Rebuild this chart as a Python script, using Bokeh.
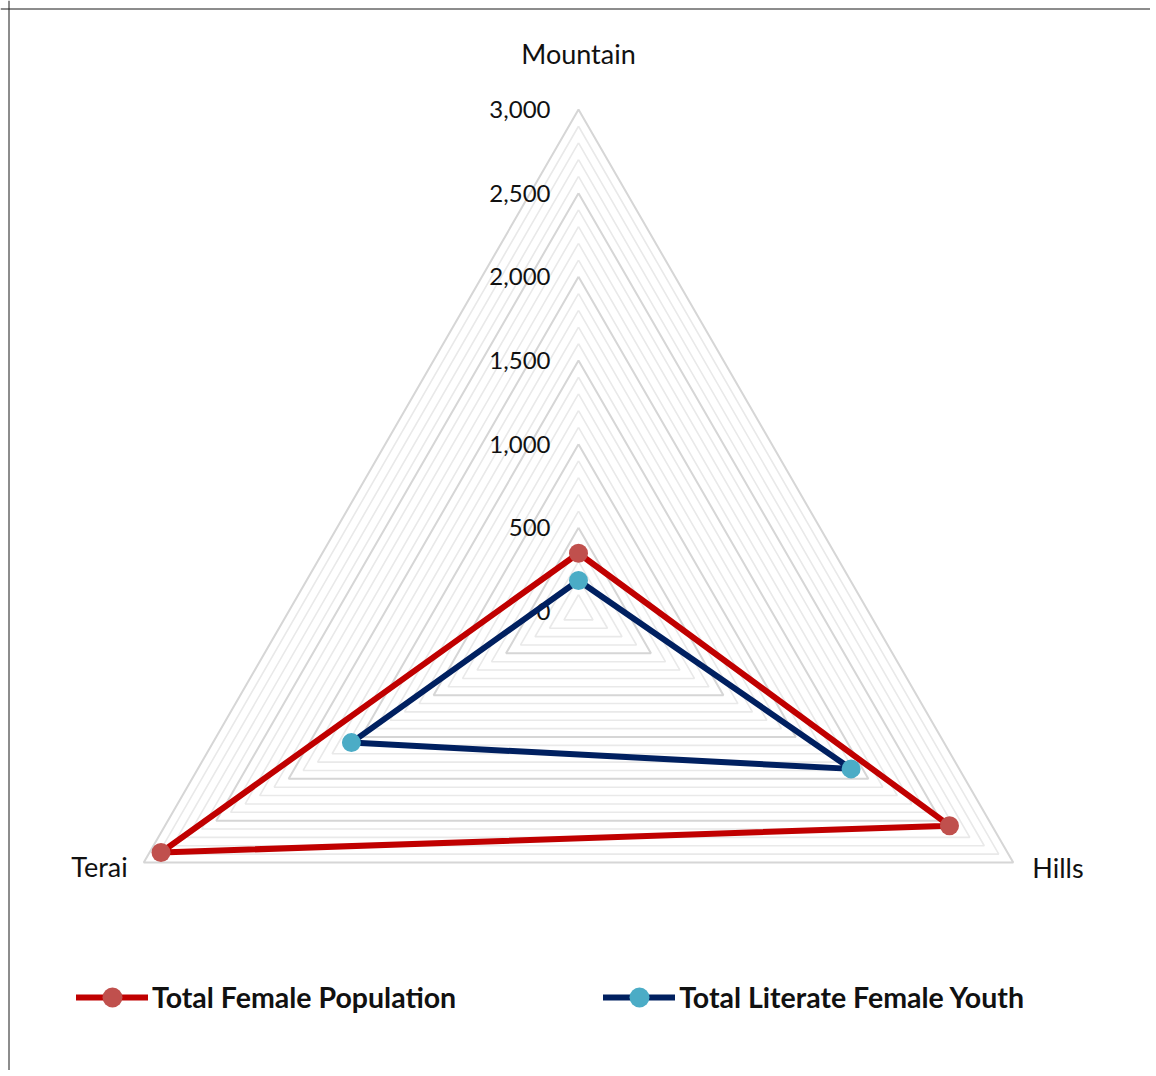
import numpy as np
from bokeh.plotting import figure
from bokeh.models import Range1d, Span, Legend, LegendItem
from bokeh.core.properties import value
from bokeh.embed import file_html
from bokeh.resources import INLINE

# ---------------- data ----------------
categories = ["Mountain", "Hills", "Terai"]
female_population = [348, 2560, 2881]
literate_female_youth = [185, 1881, 1567]
tick_values = [0, 500, 1000, 1500, 2000, 2500, 3000]
tick_labels = ["0", "500", "1,000", "1,500", "2,000", "2,500", "3,000"]
series_names = ["Total Female Population", "Total Literate Female Youth"]
r_max = 3000
minor_step = 100

# ---------------- layout ----------------
W, H = 1150, 1070
cx, cy = 578, 611          # centre of the radar in frame pixels (from left / top)
ppu = 502.0 / r_max        # pixels per unit
angles = np.deg2rad([90, -30, 210])
FONT = "Lato"

p = figure(width=W, height=H, output_backend="svg", toolbar_location=None,
           x_range=Range1d(-cx / ppu, (W - cx) / ppu),
           y_range=Range1d(-(H - cy) / ppu, cy / ppu),
           min_border=0, min_border_left=0, min_border_right=0,
           min_border_top=0, min_border_bottom=0)
p.axis.visible = False
p.grid.visible = False
p.outline_line_color = None
p.background_fill_color = "white"
p.border_fill_color = "white"

# chart-area border (left and top visible in reference)
p.add_layout(Span(location=p.x_range.start + 8.5 / ppu, dimension="height",
                  line_color="#1A1A1A", line_width=1))
p.add_layout(Span(location=p.y_range.end - 8.5 / ppu, dimension="width",
                  line_color="#1A1A1A", line_width=1))

# ---------------- grid rings ----------------
def ring(r):
    a = np.append(angles, angles[0])
    return list(r * np.cos(a)), list(r * np.sin(a))

rings = np.arange(minor_step, r_max + 1, minor_step)
minor = [r for r in rings if r % 500 != 0]
major = [r for r in rings if r % 500 == 0]
mxs, mys = zip(*[ring(r) for r in minor])
p.multi_line(xs=list(mxs), ys=list(mys), line_color="#E9E9E9", line_width=1.6)
Mxs, Mys = zip(*[ring(r) for r in major])
p.multi_line(xs=list(Mxs), ys=list(Mys), line_color="#D6D6D6", line_width=2)

# ---------------- tick labels ----------------
p.text(x=[0] * len(tick_values), y=tick_values, text=tick_labels,
       x_offset=-28, text_align="right", text_baseline="middle",
       text_font=value(FONT), text_font_size="24px", text_color="#111111")

# ---------------- category labels ----------------
cat_x = list(r_max * np.cos(angles))
cat_y = list(r_max * np.sin(angles))
cat_xoff = [0, 19, -16]
cat_yoff = [-56, 5, 4]
cat_align = ["center", "left", "right"]
p.text(x=cat_x, y=cat_y, text=categories, x_offset=cat_xoff, y_offset=cat_yoff,
       text_align=cat_align, text_baseline="middle",
       text_font=value(FONT), text_font_size="27px", text_color="#111111")

# ---------------- series ----------------
def polar(vals):
    v = np.array(vals, dtype=float)
    return list(v * np.cos(angles)), list(v * np.sin(angles))

items = []
styles = [("#C00000", "#C0504D"), ("#002060", "#4BACC6")]
for name, vals, (lc, mc) in zip(series_names, [female_population, literate_female_youth], styles):
    x, y = polar(vals)
    lr = p.line(x + [x[0]], y + [y[0]], line_color=lc, line_width=6, line_join="round",
                line_cap="round")
    sr = p.scatter(x, y, size=19, fill_color=mc, line_color=None)
    items.append(LegendItem(label=name, renderers=[lr, sr]))

legend = Legend(items=items, orientation="horizontal", location=(76, 48),
                glyph_width=72, glyph_height=50, label_standoff=4, spacing=147,
                padding=0, margin=0, border_line_color=None,
                background_fill_alpha=0,
                label_text_font=FONT, label_text_font_style="bold",
                label_text_font_size="28.5px", label_text_color="#111111")
p.add_layout(legend, "center")

open("out.html", "w").write(file_html(p, INLINE))
